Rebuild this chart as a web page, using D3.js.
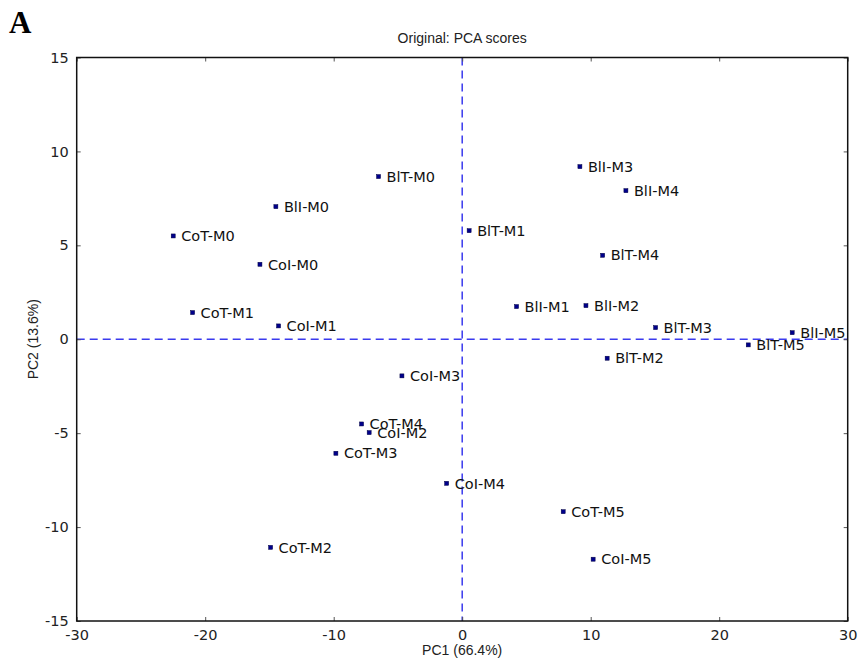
<!DOCTYPE html>
<html>
<head>
<meta charset="utf-8">
<script src="https://cdn.jsdelivr.net/npm/d3@7"></script>
<style>
  body { margin: 0; background: #fff; }
</style>
</head>
<body>
<div id="plot"></div>
<script>
const width = 860
const height = 664
const margin = {top: 57.5, right: 12.3, bottom: 43, left: 76.7}

// sample names and their PCA scores
const labels = ['BlT-M0', 'BlI-M0', 'CoT-M0', 'CoI-M0', 'BlT-M1', 'CoT-M1', 'CoI-M1',
    'BlI-M3', 'BlI-M4', 'BlT-M4', 'BlI-M1', 'BlI-M2', 'BlT-M3', 'BlI-M5', 'BlT-M5',
    'BlT-M2', 'CoI-M3', 'CoT-M4', 'CoI-M2', 'CoT-M3', 'CoI-M4', 'CoT-M2', 'CoT-M5', 'CoI-M5']
const pc1 = [-6.51, -14.50, -22.49, -15.74, 0.54, -20.98, -14.29,
    9.16, 12.74, 10.93, 4.23, 9.63, 15.05, 25.68, 22.26,
    11.28, -4.69, -7.83, -7.24, -9.83, -1.21, -14.91, 7.86, 10.19]
const pc2 = [8.66, 7.06, 5.50, 3.99, 5.78, 1.42, 0.71,
    9.19, 7.91, 4.47, 1.74, 1.79, 0.62, 0.35, -0.30,
    -1.01, -1.95, -4.51, -4.97, -6.07, -7.67, -11.08, -9.18, -11.71]

const xTicks = [-30, -20, -10, 0, 10, 20, 30]
const yTicks = [-15, -10, -5, 0, 5, 10, 15]

const svg = d3.select('div#plot').append('svg')
    .attr('width', width)
    .attr('height', height)
    .attr('viewBox', [0, 0, width, height])

const x = d3.scaleLinear().domain([-30, 30]).range([margin.left, width - margin.right])
const y = d3.scaleLinear().domain([-15, 15]).range([height - margin.bottom, margin.top])

const tickFont = 'DejaVu Sans, sans-serif'
const sansFont = 'Liberation Sans, Arial, sans-serif'
// plain hyphen for negatives, like the original
const fmt = v => String(v)

// panel letter
svg.append('text')
    .text('A')
    .attr('x', 9)
    .attr('y', 33)
    .attr('font-family', 'Liberation Serif, Times New Roman, serif')
    .attr('font-weight', 'bold')
    .attr('font-size', 31)

// title
svg.append('text')
    .text('Original: PCA scores')
    .attr('x', x(0))
    .attr('y', 43)
    .attr('text-anchor', 'middle')
    .attr('font-family', sansFont)
    .attr('font-size', 14)
    .attr('fill', '#222')

// dashed zero lines
svg.append('line')
    .attr('x1', x(0)).attr('x2', x(0))
    .attr('y1', y(15)).attr('y2', y(-15))
    .attr('stroke', '#3a3aee').attr('stroke-width', 1.5)
    .attr('stroke-dasharray', '8,5')
svg.append('line')
    .attr('x1', x(-30)).attr('x2', x(30))
    .attr('y1', y(0)).attr('y2', y(0))
    .attr('stroke', '#3a3aee').attr('stroke-width', 1.5)
    .attr('stroke-dasharray', '8,5')

// axes: ticks pointing inward on all four sides
const tickLen = 4
svg.append('g')
    .attr('transform', 'translate(0,' + y(-15) + ')')
    .call(d3.axisBottom(x).tickValues(xTicks).tickFormat(fmt).tickSizeInner(-tickLen).tickSizeOuter(0).tickPadding(9))
    .call(g => g.select('.domain').remove())
svg.append('g')
    .attr('transform', 'translate(0,' + y(15) + ')')
    .call(d3.axisTop(x).tickValues(xTicks).tickSizeInner(-tickLen).tickSizeOuter(0).tickFormat(''))
    .call(g => g.select('.domain').remove())
svg.append('g')
    .attr('transform', 'translate(' + x(-30) + ',0)')
    .call(d3.axisLeft(y).tickValues(yTicks).tickFormat(fmt).tickSizeInner(-tickLen).tickSizeOuter(0).tickPadding(8))
    .call(g => g.select('.domain').remove())
svg.append('g')
    .attr('transform', 'translate(' + x(30) + ',0)')
    .call(d3.axisRight(y).tickValues(yTicks).tickSizeInner(-tickLen).tickSizeOuter(0).tickFormat(''))
    .call(g => g.select('.domain').remove())

svg.selectAll('.tick line').attr('stroke', '#555')
svg.selectAll('.tick text')
    .attr('font-family', tickFont)
    .attr('font-size', 14.5)
    .attr('fill', '#222')

// frame
svg.append('rect')
    .attr('x', x(-30)).attr('y', y(15))
    .attr('width', x(30) - x(-30)).attr('height', y(-15) - y(15))
    .attr('fill', 'none')
    .attr('stroke', '#111')
    .attr('stroke-width', 1.5)

// points and labels
const pts = svg.append('g').selectAll('g')
    .data(labels)
    .enter()
    .append('g')

pts.append('rect')
    .attr('x', (d, i) => x(pc1[i]) - 2)
    .attr('y', (d, i) => y(pc2[i]) - 2)
    .attr('width', 4)
    .attr('height', 4)
    .attr('fill', '#00008b')
    .attr('stroke', '#000040')
    .attr('stroke-width', 0.5)

pts.append('text')
    .text(d => d)
    .attr('x', (d, i) => x(pc1[i]) + 8)
    .attr('y', (d, i) => y(pc2[i]) + 5.2)
    .attr('font-family', tickFont)
    .attr('font-size', 14.5)
    .attr('fill', '#111')

// axis labels
svg.append('text')
    .text('PC1 (66.4%)')
    .attr('x', x(0))
    .attr('y', 655)
    .attr('text-anchor', 'middle')
    .attr('font-family', sansFont)
    .attr('font-size', 14)
    .attr('fill', '#222')

svg.append('text')
    .text('PC2 (13.6%)')
    .attr('transform', 'translate(38,' + y(0) + ') rotate(-90)')
    .attr('text-anchor', 'middle')
    .attr('font-family', sansFont)
    .attr('font-size', 14)
    .attr('fill', '#222')
</script>
</body>
</html>
